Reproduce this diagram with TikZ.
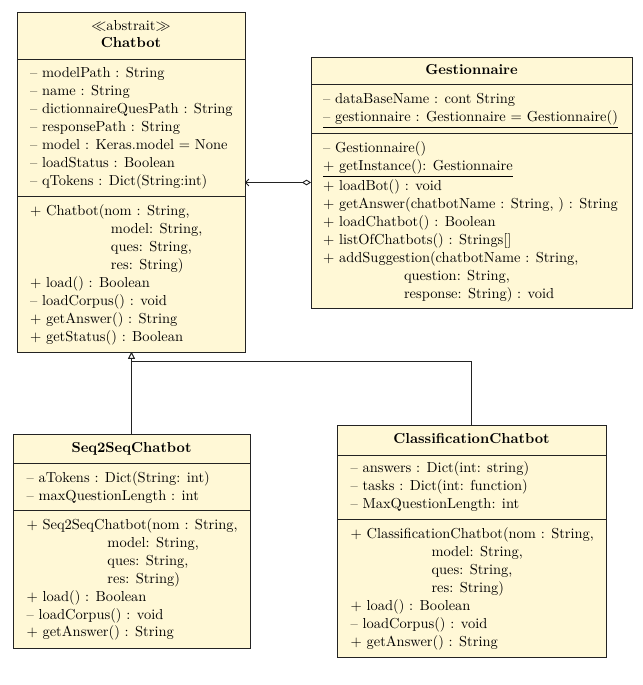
\documentclass[tikz,border=0pt]{standalone}
\usetikzlibrary{arrows.meta,shadows}
\definecolor{umlfill}{RGB}{255,248,214}
\definecolor{umlline}{RGB}{35,35,35}
\tikzset{
  classbox/.style={draw=umlline, fill=umlfill, line width=0.6pt, inner sep=0pt, outer sep=0pt, rectangle,
    drop shadow={shadow xshift=0.9pt, shadow yshift=-0.9pt, opacity=0.55}},
  sepline/.style={draw=umlline, line width=0.6pt},
  txt/.style={inner sep=0pt, outer sep=0pt, anchor=base west, font=\fontsize{9.65pt}{12pt}\selectfont},
  ttl/.style={inner sep=0pt, outer sep=0pt, anchor=base, font=\fontsize{9.65pt}{12pt}\selectfont},
  inherit/.style={draw=umlline, line width=0.6pt, -{Triangle[open, length=4.6pt, width=4.6pt, fill=white]}},
  aggreg/.style={draw=umlline, line width=0.6pt, {Diamond[open, length=6pt, width=3.8pt, fill=white]}-{Straight Barb[length=2.2pt, width=4.6pt]}},
}
\newcommand{\cont}{\hspace*{54pt}}
\begin{document}
\begin{tikzpicture}[x=0.6667pt, y=-0.6667pt]
\useasboundingbox (0,0) rectangle (642,685);

% class boxes
\node[classbox, minimum width=152pt, minimum height=226.67pt] (chatbot) at (131,182) {};
\node[classbox, minimum width=214pt, minimum height=167.33pt] (gest) at (471.5,182.5) {};
\node[classbox, minimum width=158pt, minimum height=142.67pt] (seq) at (131.5,541) {};
\node[classbox, minimum width=179.33pt, minimum height=154.67pt] (classif) at (471.5,541) {};

% separators
\draw[sepline] (chatbot.west |- 0,59) -- (chatbot.east |- 0,59);
\draw[sepline] (chatbot.west |- 0,196.5) -- (chatbot.east |- 0,196.5);
\draw[sepline] (gest.west |- 0,84) -- (gest.east |- 0,84);
\draw[sepline] (gest.west |- 0,133) -- (gest.east |- 0,133);
\draw[sepline] (seq.west |- 0,463) -- (seq.east |- 0,463);
\draw[sepline] (seq.west |- 0,510) -- (seq.east |- 0,510);
\draw[sepline] (classif.west |- 0,455) -- (classif.east |- 0,455);
\draw[sepline] (classif.west |- 0,519) -- (classif.east |- 0,519);

% Chatbot
\node[ttl] (cb-t) at (131,31) {\begin{tabular}[t]{@{}c@{}}$\ll$abstrait$\gg$\\[-1pt] \textbf{Chatbot}\end{tabular}};
\node[txt] (cb-a) at (30,77.5) {\begin{tabular}[t]{@{}l@{}}
-- modelPath : String\\
-- name : String\\
-- dictionnaireQuesPath : String\\
-- responsePath : String\\
-- model : Keras.model = None\\
-- loadStatus : Boolean\\
-- qTokens : Dict(String:int)
\end{tabular}};
\node[txt] (cb-m) at (30,216) {\begin{tabular}[t]{@{}l@{}}
+ Chatbot(nom : String,\\
\cont model: String,\\
\cont ques: String,\\
\cont res: String)\\
+ load() : Boolean\\
-- loadCorpus() : void\\
+ getAnswer() : String\\
+ getStatus() : Boolean
\end{tabular}};

% Gestionnaire
\node[ttl] (g-t) at (471.5,75) {\textbf{Gestionnaire}};
\node[txt] (g-a) at (323,104) {\begin{tabular}[t]{@{}l@{}}
-- dataBaseName : cont String\\
\underline{-- gestionnaire : Gestionnaire = Gestionnaire()}
\end{tabular}};
\node[txt] (g-m) at (323,153) {\begin{tabular}[t]{@{}l@{}}
-- Gestionnaire()\\
\underline{+ getInstance(): Gestionnaire}\\
+ loadBot() : void\\
+ getAnswer(chatbotName : String, ) : String\\
+ loadChatbot() : Boolean\\
+ listOfChatbots() : Strings[]\\
+ addSuggestion(chatbotName : String,\\
\cont question: String,\\
\cont response: String) : void
\end{tabular}};

% Seq2SeqChatbot
\node[ttl] (s-t) at (131.5,452) {\textbf{Seq2SeqChatbot}};
\node[txt] (s-a) at (26.5,482) {\begin{tabular}[t]{@{}l@{}}
-- aTokens : Dict(String: int)\\
-- maxQuestionLength : int
\end{tabular}};
\node[txt] (s-m) at (26.5,529) {\begin{tabular}[t]{@{}l@{}}
+ Seq2SeqChatbot(nom : String,\\
\cont model: String,\\
\cont ques: String,\\
\cont res: String)\\
+ load() : Boolean\\
-- loadCorpus() : void\\
+ getAnswer() : String
\end{tabular}};

% ClassificationChatbot
\node[ttl] (c-t) at (471.5,443) {\textbf{ClassificationChatbot}};
\node[txt] (c-a) at (350.5,472.5) {\begin{tabular}[t]{@{}l@{}}
-- answers : Dict(int: string)\\
-- tasks : Dict(int: function)\\
-- MaxQuestionLength: int
\end{tabular}};
\node[txt] (c-m) at (350.5,538.5) {\begin{tabular}[t]{@{}l@{}}
+ ClassificationChatbot(nom : String,\\
\cont model: String,\\
\cont ques: String,\\
\cont res: String)\\
+ load() : Boolean\\
-- loadCorpus() : void\\
+ getAnswer() : String
\end{tabular}};

% connectors
\coordinate (join) at (131.5,361.5);
\draw[inherit] (seq.north) -- (seq.north |- chatbot.south);
\draw[inherit] (classif.north) |- (join) -- (join |- chatbot.south);
\draw[aggreg] (gest.west) -- (chatbot.east |- gest.west);
\end{tikzpicture}
\end{document}
